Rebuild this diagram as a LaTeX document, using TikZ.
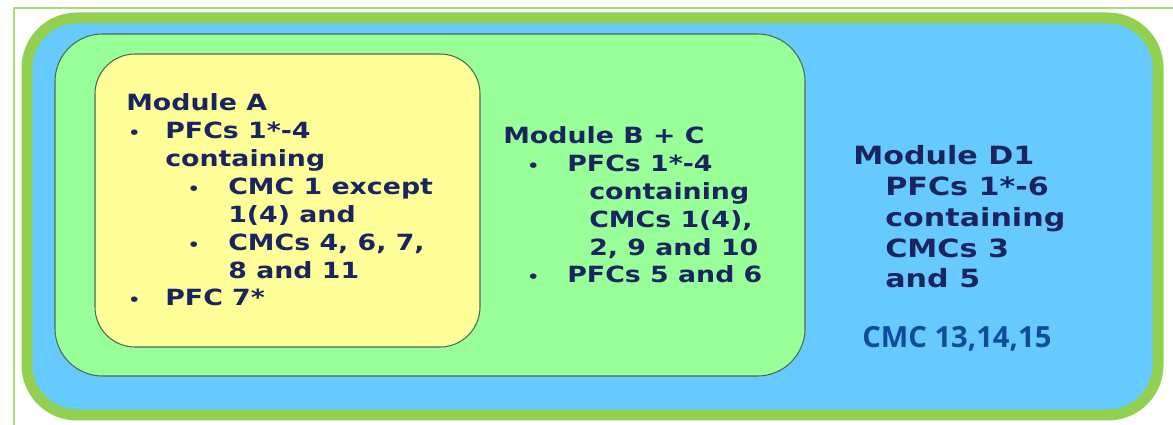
\documentclass[tikz,border=0pt]{standalone}
\usepackage{fontspec}
\newfontfamily\modfont[FakeStretch=1.2]{DejaVu Sans}
\newfontfamily\cmcfont{Open Sans}

\definecolor{rimgreen}{HTML}{92D050}
\definecolor{framegreen}{HTML}{A8DC7A}
\definecolor{skyblue}{HTML}{66CAFF}
\definecolor{palegreen}{HTML}{99FF99}
\definecolor{paleyellow}{HTML}{FFFF99}
\definecolor{boxline}{HTML}{4A6A55}
\definecolor{navy}{HTML}{1A2560}
\definecolor{cmcblue}{HTML}{0F4C9C}

\newcommand{\bl}[1]{\makebox[#1][l]{\scalebox{0.7}{\textbullet}}}

\tikzset{
  box/.style={draw=boxline, line width=0.6pt},
  modtext/.style={anchor=base west, align=left, inner sep=0pt, text=navy,
    font=\modfont\bfseries\fontsize{12.7}{15.9}\selectfont},
}

\begin{document}
\begin{tikzpicture}[x=0.02cm, y=-0.02cm]
\useasboundingbox (0, 0) rectangle (1173, 425);
% frame and the three nested modules
\draw[framegreen, line width=0.04cm] (14, 425) -- (14, 8) -- (1173, 8);
\draw[rimgreen, fill=skyblue, line width=0.22cm, rounded corners=1cm] (27, 18) rectangle (1158, 415);
\draw[box, fill=palegreen, rounded corners=0.95cm] (55, 34) rectangle (805, 376);
\draw[box, fill=paleyellow, rounded corners=0.8cm] (95, 54) rectangle (480, 347);

% base anchor = baseline of the last line
\node[modtext] (modA) at (126, 306) {Module A\\
  \hspace*{0.04cm}\bl{0.74cm}PFCs 1*-4\\
  \hspace*{0.78cm}containing\\
  \hspace*{1.23cm}\bl{0.81cm}CMC 1 except\\
  \hspace*{2.04cm}1(4) and\\
  \hspace*{1.23cm}\bl{0.81cm}CMCs 4, 6, 7,\\
  \hspace*{2.04cm}8 and 11\\
  \hspace*{0.04cm}\bl{0.74cm}PFC 7*};

\node[modtext] (modBC) at (503, 283) {Module B + C\\
  \hspace*{0.48cm}\bl{0.8cm}PFCs 1*-4\\
  \hspace*{1.72cm}containing\\
  \hspace*{1.72cm}CMCs 1(4),\\
  \hspace*{1.72cm}2, 9 and 10\\
  \hspace*{0.48cm}\bl{0.8cm}PFCs 5 and 6};

\node[modtext, font=\modfont\bfseries\fontsize{14.3}{17.6}\selectfont] (modD) at (853, 288) {Module D1\\
  \hspace*{0.64cm}PFCs 1*-6\\
  \hspace*{0.64cm}containing\\
  \hspace*{0.64cm}CMCs 3\\
  \hspace*{0.64cm}and 5};

\node[anchor=base west, inner sep=0pt, text=cmcblue, font=\cmcfont\bfseries\fontsize{16.6}{19}\selectfont] (cmc) at (862, 348) {CMC 13,14,15};
\end{tikzpicture}
\end{document}
